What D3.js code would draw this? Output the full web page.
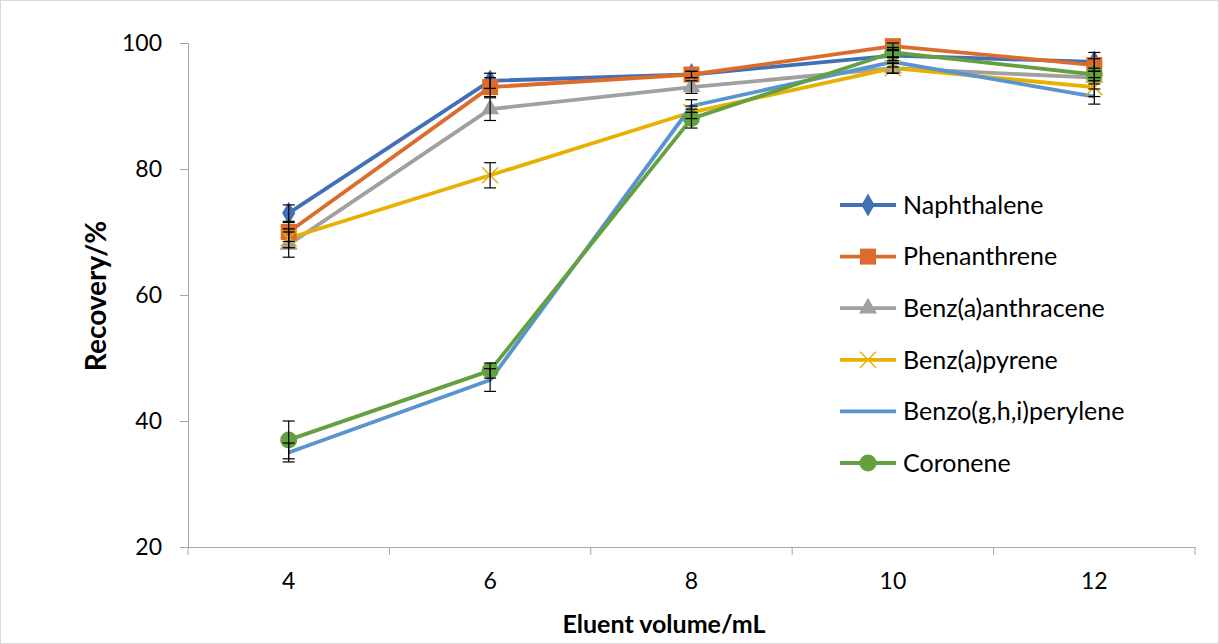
<!DOCTYPE html>
<html><head><meta charset="utf-8">
<script src="https://cdn.jsdelivr.net/npm/d3@7"></script>
<style>body{margin:0;background:#fff}svg{display:block}text{font-family:Lato,"Open Sans",sans-serif}</style>
</head><body>
<svg id="c" width="1219" height="644"></svg>
<script>
const categories = ["4","6","8","10","12"];
const seriesNames = ["Naphthalene","Phenanthrene","Benz(a)anthracene","Benz(a)pyrene","Benzo(g,h,i)perylene","Coronene"];
const naphthalene = [73, 94, 95, 98, 97];
const phenanthrene = [70, 93, 95, 99.5, 96.5];
const benzAnthracene = [68, 89.5, 93, 96, 94.5];
const benzPyrene = [69, 79, 89, 96, 93];
const benzoPerylene = [35, 46.5, 90, 97, 91.5];
const coronene = [37, 48, 88, 98.5, 95];
const errNaph = [1.3, 1.2, 0.5, 0.8, 1.5];
const errPhen = [1.5, 1.5, 0.5, 0.5, 1];
const errBaA = [2, 1.8, 1, 0.8, 1];
const errBaP = [1.5, 2, 1, 0.8, 1.5];
const errBghiP = [1.5, 1.8, 1, 0.8, 1.2];
const errCor = [3, 1.2, 1.5, 0.8, 1];
const yTicks = [20, 40, 60, 80, 100];
const colors = ["#4170B8", "#DC6C2C", "#A0A0A0", "#E8B000", "#5894D0", "#64A03F"];
const markers = ["diamond", "square", "triangle", "x", "none", "circle"];

const values = [naphthalene, phenanthrene, benzAnthracene, benzPyrene, benzoPerylene, coronene];
const errors = [errNaph, errPhen, errBaA, errBaP, errBghiP, errCor];
const series = seriesNames.map((n, i) => ({name: n, color: colors[i], marker: markers[i],
  pts: categories.map((c, j) => ({c, v: values[i][j], e: errors[i][j]}))}));

const svg = d3.select("#c");
svg.append("rect").attr("x",0.5).attr("y",0.5).attr("width",1218).attr("height",643)
  .attr("fill","#fff").attr("stroke","#d9d9d9");

const L = 188, R = 1195, T = 43, B = 547;
const x = d3.scaleBand().domain(categories).range([L, R]);
const y = d3.scaleLinear().domain([20, 100]).range([B, T]);

// axes
const ya = svg.append("g").attr("transform", `translate(${L},0)`)
  .call(d3.axisLeft(y).tickValues(yTicks).tickSize(8).tickPadding(18));
ya.select(".domain").attr("stroke","#a6a6a6");
ya.selectAll(".tick line").attr("stroke","#a6a6a6");
ya.selectAll(".tick text").attr("font-size",23).attr("fill","#000");

const xa = svg.append("g").attr("transform", `translate(0,${B})`)
  .call(d3.axisBottom(x).tickSize(0).tickPadding(26));
xa.select(".domain").attr("stroke","#a6a6a6");
xa.selectAll(".tick text").attr("font-size",23).attr("fill","#000");
// boundary ticks
const bounds = categories.map(c => x(c)).concat([R]);
svg.append("g").selectAll("line").data(bounds).join("line")
  .attr("x1", d => d).attr("x2", d => d).attr("y1", B).attr("y2", B + 8)
  .attr("stroke", "#a6a6a6");

svg.append("text").attr("x", 664).attr("y", 633).attr("text-anchor","middle")
  .attr("font-size",25).attr("font-weight","bold").text("Eluent volume/mL");
svg.append("text").attr("transform","translate(106,296) rotate(-90)").attr("text-anchor","middle")
  .attr("font-size",28).attr("font-weight","bold").text("Recovery/%");

const cx = c => x(c) + x.bandwidth() / 2;
const line = d3.line().x(d => cx(d.c)).y(d => y(d.v));

function drawMarker(g, type, color) {
  if (type === "diamond") g.append("path").attr("d", d3.symbol(d3.symbolDiamond, 150)()).attr("fill", color);
  else if (type === "square") g.append("rect").attr("x",-8).attr("y",-8).attr("width",16).attr("height",16).attr("fill", color);
  else if (type === "triangle") g.append("path").attr("d", d3.symbol(d3.symbolTriangle, 140)()).attr("fill", color);
  else if (type === "circle") g.append("circle").attr("r", 8.5).attr("fill", color);
  else if (type === "x") g.append("path").attr("d","M-8,-8L8,8M-8,8L8,-8").attr("stroke", color).attr("stroke-width",1.5).attr("fill","none");
}

series.forEach(s => {
  svg.append("path").datum(s.pts).attr("d", line).attr("fill","none")
    .attr("stroke", s.color).attr("stroke-width", 3.8).attr("stroke-linejoin","round");
});
series.forEach(s => {
  s.pts.forEach(p => {
    const g = svg.append("g").attr("transform", `translate(${cx(p.c)},${y(p.v)})`);
    drawMarker(g, s.marker, s.color);
  });
});
// error bars
series.forEach(s => {
  s.pts.forEach(p => {
    const g = svg.append("g").attr("stroke","#000").attr("stroke-width",1.2);
    const xx = cx(p.c), y1 = y(p.v + p.e), y2 = y(p.v - p.e);
    g.append("line").attr("x1",xx).attr("x2",xx).attr("y1",y1).attr("y2",y2);
    g.append("line").attr("x1",xx-6).attr("x2",xx+6).attr("y1",y1).attr("y2",y1);
    g.append("line").attr("x1",xx-6).attr("x2",xx+6).attr("y1",y2).attr("y2",y2);
  });
});

// legend
const lg = svg.append("g");
series.forEach((s, i) => {
  const yy = 205 + i * 51.6;
  lg.append("line").attr("x1",840).attr("x2",896).attr("y1",yy).attr("y2",yy)
    .attr("stroke", s.color).attr("stroke-width",3.8);
  const g = lg.append("g").attr("transform", `translate(868,${yy})`);
  drawMarker(g, s.marker, s.color);
  lg.append("text").attr("x",903).attr("y",yy).attr("dy","0.35em").attr("font-size",25)
    .attr("fill","#000").text(s.name);
});
</script>
</body></html>
